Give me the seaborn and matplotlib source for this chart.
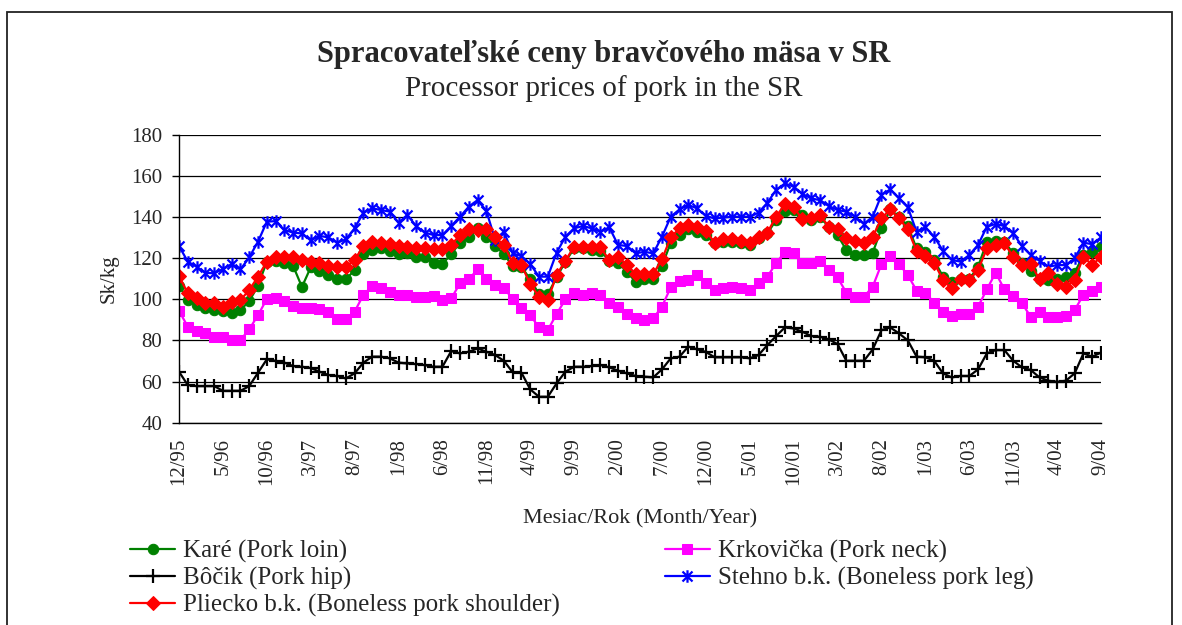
import matplotlib
matplotlib.use("Agg")
import matplotlib.pyplot as plt
from matplotlib.path import Path
from matplotlib.patches import Rectangle
import numpy as np
import seaborn as sns

sns.set_theme(style="white")
plt.rcParams["font.family"] = ["Liberation Serif", "DejaVu Serif"]

W, H = 1182, 625

# month labels shown every 5th month, 12/95 .. 9/04 (106 months)
tick_labels = ["12/95", "5/96", "10/96", "3/97", "8/97", "1/98", "6/98", "11/98",
               "4/99", "9/99", "2/00", "7/00", "12/00", "5/01", "10/01", "3/02",
               "8/02", "1/03", "6/03", "11/03", "4/04", "9/04"]

kare = [106.6, 99.6, 97.2, 95.9, 94.8, 94.4, 93.5, 94.8, 99.1, 106.6,
        118.3, 118.7, 117.8, 116.2, 106.0, 115.5, 113.7, 111.8, 109.7, 109.7,
        114.2, 122.0, 123.9, 124.7, 123.6, 122.0, 122.6, 120.4, 120.4, 117.8,
        117.1, 122.0, 127.5, 130.1, 134.5, 130.1, 125.9, 122.0, 116.0, 115.8,
        109.7, 102.5, 102.5, 110.6, 118.3, 124.7, 124.7, 123.9, 123.6, 118.7,
        117.8, 113.4, 108.5, 109.7, 109.7, 116.2, 127.5, 131.2, 134.0, 132.8,
        131.2, 127.2, 128.0, 128.0, 127.5, 126.4, 129.6, 132.0, 138.5, 143.0,
        143.4, 140.9, 138.5, 139.8, 135.3, 131.2, 123.9, 121.5, 121.5, 122.6,
        134.5, 143.7, 139.8, 135.7, 124.7, 123.1, 119.1, 111.0, 108.5, 109.7,
        109.7, 115.8, 128.0, 128.5, 128.0, 122.3, 117.5, 113.9, 109.7, 109.4,
        109.7, 111.0, 112.9, 121.5, 123.1, 125.2]

krkovicka = [94.4, 86.7, 84.7, 83.4, 81.5, 81.5, 80.2, 80.2, 85.4, 92.3,
             100.1, 100.4, 99.1, 96.7, 96.0, 96.0, 95.2, 94.0, 90.2, 90.2,
             94.0, 102.1, 106.5, 105.4, 103.7, 102.1, 102.1, 101.3, 101.3, 101.6,
             99.6, 100.4, 107.7, 109.7, 114.5, 109.7, 107.0, 105.4, 100.2, 95.6,
             92.3, 86.3, 85.0, 92.8, 99.9, 102.9, 102.1, 103.2, 102.1, 98.3,
             96.4, 92.8, 90.7, 89.9, 90.7, 96.4, 105.8, 109.0, 109.4, 111.8,
             107.7, 104.5, 105.3, 106.1, 105.3, 104.5, 107.7, 111.0, 117.5, 123.1,
             122.3, 117.5, 117.5, 118.7, 114.2, 110.6, 103.2, 101.2, 101.2, 106.1,
             117.1, 121.0, 117.1, 111.8, 104.2, 103.2, 98.3, 94.0, 91.8, 92.8,
             92.8, 96.4, 104.8, 112.9, 104.8, 101.6, 98.0, 91.5, 94.0, 91.5,
             91.5, 91.8, 94.8, 102.1, 104.2, 106.1]

bocik = [64.8, 58.3, 57.8, 57.8, 57.8, 55.5, 55.5, 55.5, 57.8, 64.3,
         70.8, 70.1, 69.2, 67.5, 67.2, 66.6, 64.8, 63.2, 62.7, 61.5,
         64.0, 69.2, 72.1, 72.1, 71.3, 69.2, 68.8, 68.5, 68.0, 67.2,
         67.2, 74.8, 73.7, 74.5, 76.1, 74.5, 72.9, 70.1, 64.5, 64.3,
         56.2, 52.6, 52.6, 59.1, 64.8, 67.2, 67.2, 67.5, 68.0, 66.9,
         65.3, 64.0, 62.7, 62.4, 62.0, 65.9, 71.3, 72.1, 77.0, 75.7,
         74.4, 71.8, 71.8, 71.8, 71.8, 71.3, 72.9, 77.7, 82.1, 86.3,
         85.8, 84.2, 82.1, 81.8, 80.5, 78.2, 70.1, 70.1, 70.1, 75.6,
         85.0, 86.3, 83.4, 80.0, 72.1, 71.8, 70.1, 64.0, 62.0, 62.7,
         62.7, 65.9, 73.7, 75.3, 75.3, 70.1, 66.9, 65.6, 62.0, 60.4,
         59.9, 60.4, 64.0, 73.7, 72.1, 74.1]

stehno = [125.9, 118.3, 115.8, 112.9, 112.6, 114.7, 117.1, 114.5, 120.4, 128.0,
          137.7, 138.0, 133.7, 132.4, 132.0, 128.6, 130.8, 130.1, 127.5, 129.1,
          134.5, 142.1, 144.2, 143.4, 142.6, 137.2, 141.0, 135.6, 132.4, 131.2,
          131.2, 135.6, 140.1, 145.0, 148.2, 143.0, 129.0, 132.8, 122.3, 121.0,
          117.1, 111.0, 111.0, 122.6, 130.4, 134.5, 135.6, 134.5, 132.8, 135.0,
          126.4, 125.9, 122.3, 123.1, 122.3, 130.4, 140.1, 143.7, 145.8, 144.2,
          140.5, 139.3, 139.7, 140.1, 140.1, 140.1, 142.1, 146.9, 153.1, 156.3,
          154.7, 151.2, 149.0, 148.2, 145.3, 143.4, 142.6, 140.1, 136.6, 140.1,
          150.7, 153.4, 149.0, 144.7, 132.8, 135.0, 130.4, 123.6, 119.1, 118.3,
          121.5, 126.4, 135.3, 136.6, 135.6, 132.0, 125.9, 121.5, 118.7, 115.8,
          116.6, 116.6, 119.9, 127.5, 126.8, 130.1]

pliecko = [111.3, 102.9, 100.4, 98.3, 98.0, 96.1, 98.8, 99.6, 104.5, 111.0,
           118.3, 120.4, 120.7, 120.4, 119.3, 118.0, 117.7, 116.3, 115.8, 115.8,
           119.1, 125.9, 128.0, 127.5, 126.8, 125.9, 125.2, 124.7, 124.7, 124.3,
           124.3, 126.4, 131.2, 134.0, 133.7, 134.0, 130.1, 126.4, 117.7, 116.6,
           107.4, 101.2, 99.6, 111.8, 118.7, 125.6, 125.2, 125.2, 125.2, 119.1,
           120.7, 116.6, 112.3, 112.3, 112.3, 119.4, 130.1, 134.5, 136.1, 135.0,
           133.3, 127.5, 129.1, 129.1, 128.5, 127.5, 130.4, 132.4, 140.1, 146.3,
           144.7, 138.8, 139.3, 140.9, 135.3, 134.0, 129.6, 128.5, 127.2, 130.4,
           139.3, 143.7, 139.3, 134.0, 123.4, 121.0, 117.8, 109.4, 105.3, 109.7,
           109.4, 114.2, 124.7, 126.4, 127.2, 120.7, 116.6, 117.1, 109.7, 112.9,
           107.4, 106.1, 109.4, 120.7, 116.6, 120.7]

months = np.arange(len(kare))

# Excel-style star marker: an x with a vertical bar
star = Path([(-1, -1), (1, 1), (-1, 1), (1, -1), (0, -1.25), (0, 1.25)],
            [Path.MOVETO, Path.LINETO, Path.MOVETO, Path.LINETO, Path.MOVETO, Path.LINETO])

# drawing order follows the original series order (red drawn last, on top)
series = [
    ("Karé (Pork loin)", kare, "#008000", "o", 7.5, {}),
    ("Krkovička (Pork neck)", krkovicka, "#FF00FF", "s", 7, {}),
    ("Bôčik (Pork hip)", bocik, "black", "+", 10, {"markeredgewidth": 1.6}),
    ("Stehno b.k. (Boneless pork leg)", stehno, "#0000FF", star, 9,
     {"markeredgewidth": 1.6, "markerfacecolor": "none"}),
    ("Pliecko b.k. (Boneless pork shoulder)", pliecko, "#FF0000", "D", 7, {}),
]

fig = plt.figure(figsize=(W / 100, H / 100), dpi=100)
ax = fig.add_axes([179 / W, 1 - 422.7 / H, 922 / W, 288 / H])

handles = {}
for label, vals, color, marker, ms, extra in series:
    sns.lineplot(x=months, y=vals, ax=ax, color=color, linewidth=1.6,
                 marker=marker, markersize=ms, markeredgecolor=color, **extra)
    handles[label] = ax.get_lines()[-1]

ax.set_xlim(0, len(months) - 1)
ax.set_ylim(40, 180)
ax.set_yticks(range(40, 181, 20))
ax.set_xticks(months)
ax.set_xticklabels([tick_labels[i // 5] if i % 5 == 0 else "" for i in months],
                   rotation=90, fontsize=15)
ax.tick_params(axis="x", direction="inout", length=10, width=1, color="black", pad=6)
ax.tick_params(axis="y", direction="out", length=5, width=1, color="black", pad=7,
               labelsize=15, left=True)
ax.yaxis.grid(True, color="black", linewidth=0.9)
ax.xaxis.grid(False)
for side in ("top", "right"):
    ax.spines[side].set_visible(False)
for side in ("left", "bottom"):
    ax.spines[side].set_color("black")
    ax.spines[side].set_linewidth(1.0)

ax.set_ylabel("Sk/kg", fontsize=15)
ax.yaxis.set_label_coords(-0.066, 0.5)
ax.set_xlabel("Mesiac/Rok (Month/Year)", fontsize=16)
ax.xaxis.set_label_coords(0.5, -0.30)

fig.text(604 / W, 1 - 62 / H, "Spracovateľské ceny bravčového mäsa v SR",
         ha="center", va="baseline", fontsize=22, fontweight="bold")
fig.text(604 / W, 1 - 96 / H, "Processor prices of pork in the SR",
         ha="center", va="baseline", fontsize=21)

order = ["Karé (Pork loin)", "Bôčik (Pork hip)", "Pliecko b.k. (Boneless pork shoulder)",
         "Krkovička (Pork neck)", "Stehno b.k. (Boneless pork leg)"]
fig.legend([handles[k] for k in order], order, loc="upper left",
           bbox_to_anchor=(130 / W, 1 - 540 / H), ncol=2, frameon=False,
           fontsize=18, handlelength=1.8, handletextpad=0.32, columnspacing=4.2,
           labelspacing=0.15, borderpad=0, borderaxespad=0)

# chart-area frame (bottom edge cropped off in the original)
fig.patches.append(Rectangle((7 / W, -0.1), (1172 - 7) / W, 1.1 - 12 / H,
                             transform=fig.transFigure, fill=False,
                             edgecolor="#222222", linewidth=1.3))

fig.savefig("out.png", dpi=100)
